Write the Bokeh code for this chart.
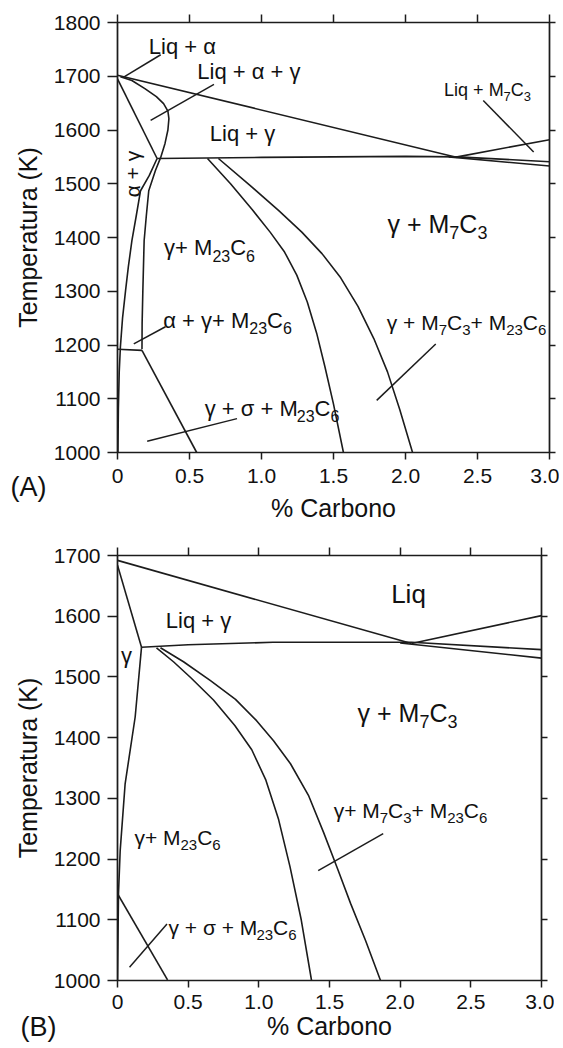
import math
import re
from bokeh.plotting import figure
from bokeh.models import Range1d, LinearAxis, FixedTicker, Label, CustomJSTickFormatter, Title
from bokeh.layouts import column
from bokeh.embed import file_html
from bokeh.resources import INLINE

FONT = "Liberation Sans"
INK = "#1c1c1c"
TXT = "#111111"

# ---------------- axis ticks ----------------
X_TICKS = [0, 0.5, 1, 1.5, 2, 2.5, 3]
X_TICK_LABELS = ["0", "0.5", "1.0", "1.5", "2.0", "2.5", "3.0"]
A_Y_TICKS = [1000, 1100, 1200, 1300, 1400, 1500, 1600, 1700, 1800]
A_Y_TICK_LABELS = ["1000", "1100", "1200", "1300", "1400", "1500", "1600", "1700", "1800"]
B_Y_TICKS = [1000, 1100, 1200, 1300, 1400, 1500, 1600, 1700]
B_Y_TICK_LABELS = ["1000", "1100", "1200", "1300", "1400", "1500", "1600", "1700"]
X_TITLE = "% Carbono"
Y_TITLE = "Temperatura (K)"

# ---------------- panel A boundaries (% C, K) ----------------
A_liq_x = [0.0, 2.36]
A_liq_T = [1702, 1549]
A_sol_x = [0.0, 0.275]
A_sol_T = [1695, 1547]
A_bulge_x = [0.02, 0.10, 0.19, 0.27, 0.32, 0.35, 0.357, 0.35, 0.33, 0.30, 0.264, 0.217, 0.20, 0.185, 0.176, 0.171, 0.17]
A_bulge_T = [1699, 1692, 1677, 1662, 1649, 1635, 1621, 1600, 1575, 1549, 1525, 1487, 1440, 1394, 1301, 1240, 1192]
A_left_x = [0.275, 0.22, 0.16, 0.13, 0.10, 0.075, 0.056, 0.035, 0.02, 0.012, 0.006, 0.003]
A_left_T = [1547, 1515, 1487, 1440, 1394, 1345, 1301, 1250, 1196, 1150, 1080, 1000]
A_eut_x = [0.275, 1.0, 2.0, 2.36, 3.0]
A_eut_T = [1547, 1549, 1551, 1550, 1541]
A_eut2_x = [2.3, 3.0]
A_eut2_T = [1550, 1533]
A_m7_x = [2.36, 3.0]
A_m7_T = [1550, 1582]
A_c1_x = [0.625, 0.785, 0.935, 1.06, 1.16, 1.245, 1.318, 1.383, 1.44, 1.50, 1.569]
A_c1_T = [1547, 1500, 1452, 1410, 1373, 1330, 1280, 1222, 1160, 1090, 1000]
A_c2_x = [0.701, 0.92, 1.12, 1.28, 1.42, 1.55, 1.67, 1.78, 1.875, 1.96, 2.049]
A_c2_T = [1547, 1497, 1450, 1410, 1370, 1325, 1272, 1212, 1150, 1080, 1000]
A_eut_lo_x = [0.0, 0.17]
A_eut_lo_T = [1192, 1190]
A_sig_x = [0.17, 0.55]
A_sig_T = [1190, 1000]

# ---------------- panel B boundaries (% C, K) ----------------
B_liq_x = [0.0, 2.08]
B_liq_T = [1692, 1555]
B_m7_x = [2.08, 3.0]
B_m7_T = [1555, 1601]
B_sol_x = [0.0, 0.17]
B_sol_T = [1684, 1549]
B_eut_x = [0.17, 0.5, 1.1, 2.08, 3.0]
B_eut_T = [1549, 1553, 1557, 1557, 1545]
B_eut2_x = [2.0, 3.0]
B_eut2_T = [1556, 1531]
B_gam_x = [0.17, 0.125, 0.054, 0.019, 0.007, 0.0]
B_gam_T = [1549, 1434, 1324, 1214, 1143, 1000]
B_sig_x = [0.0, 0.354]
B_sig_T = [1143, 1001]
B_c1_x = [0.276, 0.396, 0.517, 0.679, 0.83, 0.95, 1.05, 1.14, 1.22, 1.30, 1.373]
B_c1_T = [1548, 1525, 1499, 1462, 1420, 1380, 1330, 1265, 1188, 1100, 1000]
B_c2_x = [0.304, 0.467, 0.658, 0.835, 0.984, 1.104, 1.224, 1.351, 1.458, 1.557, 1.649, 1.755, 1.861]
B_c2_T = [1548, 1525, 1494, 1463, 1428, 1395, 1357, 1305, 1244, 1184, 1127, 1066, 1000]

# ---------------- region names (_{..} = subscript) ----------------
A_NAMES = ["Liq + α", "Liq + α + γ", "Liq + γ", "Liq + M_{7}C_{3}", "γ + M_{7}C_{3}", "α + γ",
           "γ+ M_{23}C_{6}", "α + γ+ M_{23}C_{6}", "γ + σ + M_{23}C_{6}", "γ + M_{7}C_{3}+ M_{23}C_{6}"]
B_NAMES = ["Liq", "Liq + γ", "γ", "γ + M_{7}C_{3}", "γ+ M_{7}C_{3}+ M_{23}C_{6}", "γ+ M_{23}C_{6}",
           "γ + σ + M_{23}C_{6}"]

# approximate advance widths (1/1000 em) of an Arial-metric font
ADV = {" ": 278, "+": 584, "L": 556, "i": 222, "q": 556, "M": 833, "C": 722,
       "α": 578, "γ": 500, "σ": 571}


def text_width(s, size):
    return sum(ADV.get(c, 556) for c in s) * size / 1000.0


def tick_formatter(tick_values, tick_texts):
    return CustomJSTickFormatter(args=dict(tv=tick_values, tt=tick_texts),
                                 code="const i = tv.indexOf(tick); return i >= 0 ? tt[i] : '';")


def style_axis(ax, show_labels):
    ax.axis_line_color = INK
    ax.axis_line_width = 1.6
    ax.major_tick_line_color = INK
    ax.major_tick_line_width = 1.5
    ax.major_tick_in = 0
    ax.major_tick_out = 8
    ax.minor_tick_in = 0
    ax.minor_tick_out = 0
    ax.major_label_text_font = FONT
    ax.major_label_text_color = TXT
    if show_labels:
        ax.major_label_text_font_size = "21px"
        ax.major_label_standoff = 7
    else:
        ax.major_label_text_font_size = "0px"
        ax.major_label_standoff = 0
        ax.formatter = CustomJSTickFormatter(code="return '';")
    ax.axis_label_text_font = FONT
    ax.axis_label_text_font_style = "normal"
    ax.axis_label_text_font_size = "25px"
    ax.axis_label_text_color = TXT
    ax.axis_label_standoff = 9


def make_panel(y0, y1, yticks, ylabels, frame_w, frame_h, borders, x_std):
    bl, br, bt, bb = borders
    p = figure(frame_width=frame_w, frame_height=frame_h,
               min_border_left=bl, min_border_right=br, min_border_top=bt, min_border_bottom=bb,
               x_range=Range1d(0, 3), y_range=Range1d(y0, y1),
               output_backend="svg", toolbar_location=None,
               background_fill_color="white", border_fill_color="white")
    p.xgrid.visible = False
    p.ygrid.visible = False
    p.outline_line_color = INK
    p.outline_line_width = 1.2

    xa = p.xaxis[0]
    xa.ticker = FixedTicker(ticks=X_TICKS)
    xa.formatter = tick_formatter(X_TICKS, X_TICK_LABELS)
    xa.axis_label = X_TITLE
    style_axis(xa, True)
    xa.major_tick_out = 7
    xa.major_label_standoff = x_std[0]
    xa.axis_label_standoff = x_std[1]

    ya = p.yaxis[0]
    ya.ticker = FixedTicker(ticks=yticks)
    ya.formatter = tick_formatter(yticks, ylabels)
    ya.axis_label = Y_TITLE
    style_axis(ya, True)
    ya.major_tick_out = 10

    top = LinearAxis(ticker=FixedTicker(ticks=X_TICKS))
    style_axis(top, False)
    p.add_layout(top, "above")
    right = LinearAxis(ticker=FixedTicker(ticks=yticks))
    style_axis(right, False)
    right.major_tick_out = 6
    p.add_layout(right, "right")
    return p


def panel_tag(p, text, offset, standoff):
    # drawn in the band below the x axis, pulled up beside the x title
    p.add_layout(Title(text=text, align="left", offset=offset, vertical_align="top", standoff=standoff,
                       text_font=FONT, text_font_size="27px", text_font_style="normal",
                       text_color=TXT), "below")


def boundary(p, xs, ts):
    p.line(xs, ts, line_color=INK, line_width=1.6)


def leader(p, x0, t0, x1, t1):
    p.line([x0, x1], [t0, t1], line_color=INK, line_width=1.5)


def name(p, kpp, x, t, text, size=22, sub_ratio=0.72, angle=0.0):
    """Place a region name centred at (x, t); kpp = kelvin per pixel of the panel."""
    if angle:
        p.add_layout(Label(x=x, y=t, text=text, angle=angle, text_font=FONT,
                           text_font_size=f"{size}px", text_color=TXT,
                           text_align="center", text_baseline="middle"))
        return
    parts = re.split(r"_\{(.*?)\}", text)
    runs = [(s, i % 2 == 1) for i, s in enumerate(parts) if s]
    sub = round(size * sub_ratio)
    widths = [text_width(s, sub if is_sub else size) for s, is_sub in runs]
    cur = -sum(widths) / 2.0
    for (s, is_sub), w in zip(runs, widths):
        tt = t - (0.36 * size * kpp if is_sub else 0.0)
        p.add_layout(Label(x=x, y=tt, x_offset=cur, text=s, text_font=FONT,
                           text_font_size=f"{sub if is_sub else size}px", text_color=TXT,
                           text_align="left", text_baseline="middle"))
        cur += w


# ================= panel A =================
KA = 800.0 / 430.0
pA = make_panel(1000, 1800, A_Y_TICKS, A_Y_TICK_LABELS, 432, 430, (117, 10, 22, 77), (9, 8))
for xs, ts in [(A_liq_x, A_liq_T), (A_sol_x, A_sol_T), (A_bulge_x, A_bulge_T), (A_left_x, A_left_T),
               (A_eut_x, A_eut_T), (A_eut2_x, A_eut2_T), (A_m7_x, A_m7_T), (A_c1_x, A_c1_T),
               (A_c2_x, A_c2_T), (A_eut_lo_x, A_eut_lo_T), (A_sig_x, A_sig_T)]:
    boundary(pA, xs, ts)

leader(pA, 0.04, 1698, 0.30, 1740)
leader(pA, 0.67, 1685, 0.23, 1618)
leader(pA, 2.54, 1655, 2.89, 1559)
leader(pA, 0.333, 1234, 0.113, 1202)
leader(pA, 0.83, 1063, 0.206, 1021)
leader(pA, 2.21, 1202, 1.80, 1097)

name(pA, KA, 0.451, 1755, A_NAMES[0])
name(pA, KA, 0.913, 1709, A_NAMES[1])
name(pA, KA, 0.868, 1593, A_NAMES[2])
name(pA, KA, 2.57, 1675, A_NAMES[3], 18)
name(pA, KA, 2.222, 1426, A_NAMES[4], 25)
name(pA, KA, 0.104, 1518, A_NAMES[5], 21, angle=math.pi / 2)
name(pA, KA, 0.639, 1381, A_NAMES[6])
name(pA, KA, 0.764, 1246, A_NAMES[7])
name(pA, KA, 1.073, 1082, A_NAMES[8])
name(pA, KA, 2.424, 1242, A_NAMES[9], 21)
panel_tag(pA, "(A)", -107, -106)

# ================= panel B =================
KB = 700.0 / 425.0
pB = make_panel(1000, 1700, B_Y_TICKS, B_Y_TICK_LABELS, 424, 425, (114, 16, 26, 68), (7, 0))
for xs, ts in [(B_liq_x, B_liq_T), (B_m7_x, B_m7_T), (B_sol_x, B_sol_T), (B_eut_x, B_eut_T),
               (B_eut2_x, B_eut2_T), (B_gam_x, B_gam_T), (B_sig_x, B_sig_T), (B_c1_x, B_c1_T),
               (B_c2_x, B_c2_T)]:
    boundary(pB, xs, ts)

leader(pB, 1.88, 1242, 1.42, 1181)
leader(pB, 0.35, 1093, 0.085, 1022)

name(pB, KB, 2.059, 1636, B_NAMES[0], 26)
name(pB, KB, 0.573, 1593, B_NAMES[1])
name(pB, KB, 0.064, 1535, B_NAMES[2])
name(pB, KB, 2.052, 1441, B_NAMES[3], 25)
name(pB, KB, 2.073, 1280, B_NAMES[4], 21)
name(pB, KB, 0.425, 1236, B_NAMES[5], 21)
name(pB, KB, 0.814, 1087, B_NAMES[6], 21)
panel_tag(pB, "(B)", -97, -62)

layout = column(pA, pB, spacing=0)
open("out.html", "w").write(file_html(layout, INLINE))
